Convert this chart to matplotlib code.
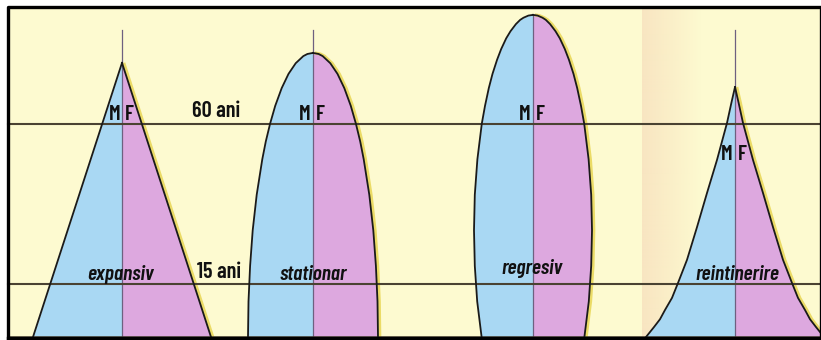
import numpy as np
import matplotlib
matplotlib.use("Agg")
import matplotlib.pyplot as plt

# ==========================
# Donnees (ages en annees, demi-largeurs en unites de l'axe x)
# ==========================
shape_names = ["expansiv", "stationar", "regresiv", "reintinerire"]
shape_centers = [122, 313, 533, 735]

expansiv_ages = [0, 77.1]
expansiv_hw = [89, 0]

stationar_ages = [0, 10, 20, 30, 40, 50, 55, 60, 65, 70, 74, 77, 79, 79.6, 79.9]
stationar_hw = [65, 64.5, 62.9, 60.3, 56.3, 50.7, 47.2, 42.9, 37.8, 31.3, 24.5, 17.3, 9.7, 5.6, 0]

regresiv_ages = [0, 10, 20, 30, 40, 50, 60, 65, 70, 74, 78, 81, 84, 86, 88, 89.2, 89.8, 90.4, 90.6]
regresiv_hw = [51.4, 55.8, 58.2, 59, 58.2, 55.6, 51.2, 48.0, 44.2, 40.5, 35.9, 31.8, 26.8, 22.5, 17.1, 12.8, 9.5, 4.6, 0]

reint_ages = [0, 1.4, 2.8, 5.0, 7.6, 11.0, 15.2, 21.7, 30.9, 40.5, 49.8, 60.2, 66.0, 70.3]
reint_hw = [89, 85, 81, 75, 70, 63, 57, 48, 38, 28, 18, 8, 3.5, 0]

profiles = [
    (expansiv_ages, expansiv_hw),
    (stationar_ages, stationar_hw),
    (regresiv_ages, regresiv_hw),
    (reint_ages, reint_hw),
]

age_lines = [15, 60]
age_labels = ["15 ani", "60 ani"]

# ==========================
# Style
# ==========================
BG = "#FDFAD0"
BLUE = "#A9D8F3"
PINK = "#DDA8DF"
LINE = "#4A4232"
FONT = ["Barlow Condensed", "DejaVu Sans"]

PX_PER_YEAR = 160 / 45
BASE_PX = 337


def age_of(px):
    return (BASE_PX - px) / PX_PER_YEAR


fig = plt.figure(figsize=(8.21, 3.40), dpi=100)
fig.patch.set_facecolor("white")
ax = fig.add_axes([0, 0, 1, 1])

# fond jaune + pli de la page
y_top = age_of(7)
y_bot = age_of(338)
ax.fill_between([8, 821], y_bot, y_top, color=BG, zorder=0)
grad = np.zeros((1, 60, 4))
grad[..., :3] = matplotlib.colors.to_rgb("#F8E3C0")
grad[0, :, 3] = np.linspace(0.9, 0.0, 60)
ax.imshow(grad, extent=[642, 702, y_bot, y_top], aspect="auto", zorder=0.5,
          interpolation="bilinear")
ax.set_xlim(0, 821)
ax.set_ylim(age_of(340), age_of(0))
ax.axis("off")

# ==========================
# Pyramides
# ==========================
for cx, (ages, hw) in zip(shape_centers, profiles):
    ages = np.array(ages)
    hw = np.array(hw)
    ax.fill_betweenx(ages, cx - hw, cx, color=BLUE, lw=0, zorder=1)
    ax.fill_betweenx(ages, cx, cx + hw, color=PINK, lw=0, zorder=1)
    ax.plot(cx + hw + 1.8, ages, color="#EBDB66", lw=2.2, zorder=1.5,
            solid_capstyle="butt")
    ax.plot(cx - hw, ages, color="#1a1a1a", lw=1.3, zorder=3)
    ax.plot(cx + hw, ages, color="#1a1a1a", lw=1.3, zorder=3)
    ax.plot([cx, cx], [0, max(age_of(30), ages.max())], color="#6E6080",
            lw=0.9, zorder=2)

# lignes d'age
for a in age_lines:
    ax.plot([8, 821], [a, a], color=LINE, lw=1.5, zorder=2.5)
ax.plot([8, 821], [0, 0], color=LINE, lw=1.8, zorder=2.5)

# cadre
ax.plot([8, 821, 821, 8, 8], [y_bot, y_bot, y_top, y_top, y_bot],
        color="black", lw=2.4, zorder=4, clip_on=False)

# ==========================
# Textes
# ==========================
txt = dict(family=FONT, fontweight=600, color="#111111", zorder=5)

mf_ages = [age_of(115), age_of(115), age_of(115), age_of(155)]
for cx, a in zip(shape_centers, mf_ages):
    ax.text(cx - 2, a, "M", ha="right", va="center", fontsize=15.5, **txt)
    ax.text(cx + 2.5, a, "F", ha="left", va="center", fontsize=15.5, **txt)

name_pos = [(121, age_of(274)), (313, age_of(274)), (532, age_of(268)),
            (737, age_of(274))]
for name, (x, y) in zip(shape_names, name_pos):
    ax.text(x, y, name, ha="center", va="center", fontsize=15.5,
            fontstyle="italic", **txt)

ax.text(219, age_of(272), age_labels[0], ha="center", va="center",
        fontsize=16, **txt)
ax.text(216, age_of(111), age_labels[1], ha="center", va="center",
        fontsize=16, **txt)

fig.savefig("out.png", dpi=100, facecolor="white")
